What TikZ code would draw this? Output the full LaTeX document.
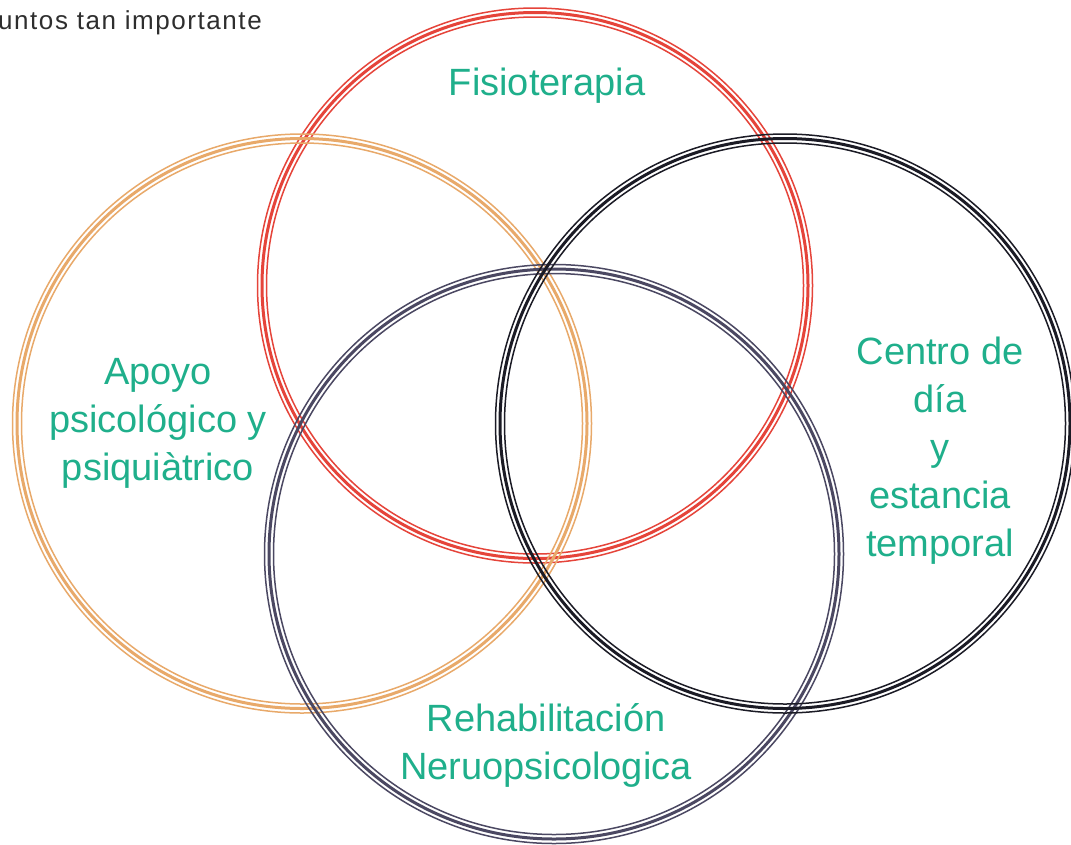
\documentclass[tikz,border=0pt]{standalone}
\usepackage{fontspec}
\setmainfont{Liberation Sans}
\definecolor{ringred}{HTML}{E5443A}
\definecolor{ringorange}{HTML}{E8A96A}
\definecolor{ringblack}{HTML}{1B1B25}
\definecolor{ringpurple}{HTML}{4B4862}
\definecolor{labelteal}{HTML}{1FAF8B}
\definecolor{bodygrey}{HTML}{2E2E2E}
\begin{document}
\begin{tikzpicture}[x=1pt,y=-1pt,
  ring/.style={circle, draw=#1, line width=3pt, inner sep=0pt},
  thinring/.style={draw=#1, line width=1.5pt},
  label/.style={text=labelteal, align=center, font=\fontsize{38}{48}\selectfont}]
\useasboundingbox (0,0) rectangle (1071,844);

% three-line rings: a heavier middle stroke with a thin stroke on each side
\node[ring=ringred, minimum size=546pt] (fis) at (535,285.5) {};
\draw[thinring=ringred] (fis.center) circle (277.5pt);
\draw[thinring=ringred] (fis.center) circle (268.5pt);

\node[ring=ringorange, minimum size=570pt] (apo) at (302,423.5) {};
\draw[thinring=ringorange] (apo.center) circle (289.5pt);
\draw[thinring=ringorange] (apo.center) circle (280.5pt);

\node[ring=ringpurple, minimum size=570pt] (reh) at (554,554) {};
\draw[thinring=ringpurple] (reh.center) circle (289.5pt);
\draw[thinring=ringpurple] (reh.center) circle (280.5pt);

\node[ring=ringblack, minimum size=570pt] (cen) at (785,423.5) {};
\draw[thinring=ringblack] (cen.center) circle (289.5pt);
\draw[thinring=ringblack] (cen.center) circle (280.5pt);

% labels
\node[label] (tfis) at (547,86) {Fisioterapia};
\node[label] (tapo) at (158,423) {Apoyo\\psicológico y\\psiquiàtrico};
\node[label] (tcen) at (940,451) {Centro de\\día\\y\\estancia\\temporal};
\node[label] (treh) at (546,745) {Rehabilitación\\Neruopsicologica};

% running text at the top edge
\node[anchor=base west, inner sep=0pt, text=bodygrey,
      font=\fontsize{26}{30}\selectfont\addfontfeature{LetterSpace=6}]
  (run) at (-2,29) {untos tan importante};
\end{tikzpicture}
\end{document}
